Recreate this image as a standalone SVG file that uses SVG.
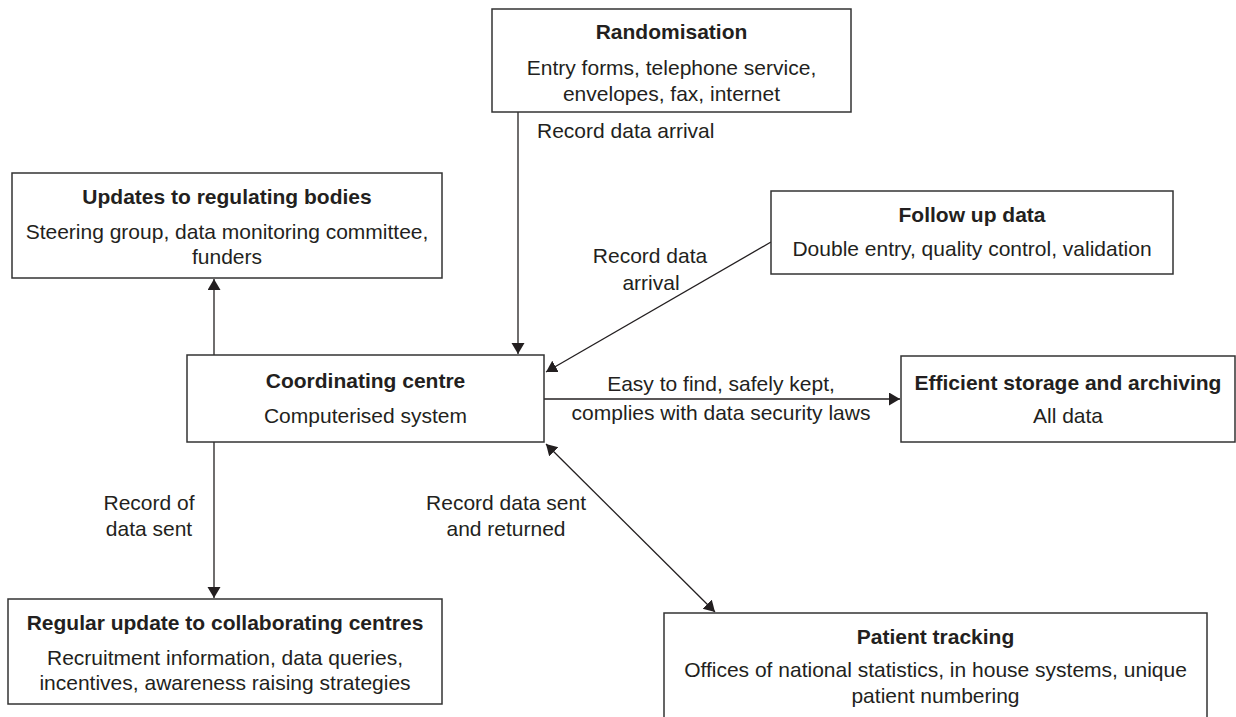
<svg xmlns="http://www.w3.org/2000/svg" width="1236" height="717" viewBox="0 0 1236 717">
<style>
.box{fill:#fff;stroke:#333;stroke-width:1.5}
.t{font-family:"Liberation Sans",Arial,sans-serif;font-size:21px;font-weight:bold;fill:#231f20;text-anchor:middle}
.b{font-family:"Liberation Sans",Arial,sans-serif;font-size:21px;fill:#231f20;text-anchor:middle}
.lbl{font-family:"Liberation Sans",Arial,sans-serif;font-size:21px;fill:#231f20}
.c{fill:none;stroke:#231f20;stroke-width:1.3}
</style>
<defs>
<marker id="ah" markerUnits="userSpaceOnUse" markerWidth="12" markerHeight="14" refX="11" refY="6.5" orient="auto-start-reverse" viewBox="0 0 12 14">
<path d="M0,0 L11,6.5 L0,13 z" fill="#231f20"/>
</marker>
</defs>
<rect width="1236" height="717" fill="#fff"/>
<g id="connectors">
<line class="c" x1="518" y1="112" x2="518" y2="354" marker-end="url(#ah)"/>
<line class="c" x1="771" y1="242" x2="546" y2="372" marker-end="url(#ah)"/>
<line class="c" x1="214" y1="355" x2="214" y2="279" marker-end="url(#ah)"/>
<line class="c" x1="544" y1="399" x2="900" y2="399" marker-end="url(#ah)"/>
<line class="c" x1="214" y1="442" x2="214" y2="598" marker-end="url(#ah)"/>
<line class="c" x1="546" y1="444" x2="715" y2="612" marker-start="url(#ah)" marker-end="url(#ah)"/>
<text class="lbl" x="537" y="138">Record data arrival</text>
<text class="lbl" x="650" y="263" text-anchor="middle">Record data</text>
<text class="lbl" x="651" y="290" text-anchor="middle">arrival</text>
<text class="lbl" x="721" y="391" text-anchor="middle">Easy to find, safely kept,</text>
<text class="lbl" x="721" y="420" text-anchor="middle">complies with data security laws</text>
<text class="lbl" x="149" y="510" text-anchor="middle">Record of</text>
<text class="lbl" x="149" y="536" text-anchor="middle">data sent</text>
<text class="lbl" x="506" y="510" text-anchor="middle">Record data sent</text>
<text class="lbl" x="506" y="536" text-anchor="middle">and returned</text>
</g>
<g id="randomisation">
<rect class="box" x="492" y="9" width="359" height="103"/>
<text class="t" x="671.5" y="39">Randomisation</text>
<text class="b" x="671.5" y="75">Entry forms, telephone service,</text>
<text class="b" x="671.5" y="101">envelopes, fax, internet</text>
</g>
<g id="updates">
<rect class="box" x="12" y="173" width="430" height="105"/>
<text class="t" x="227" y="204">Updates to regulating bodies</text>
<text class="b" x="227" y="239">Steering group, data monitoring committee,</text>
<text class="b" x="227" y="264">funders</text>
</g>
<g id="followup">
<rect class="box" x="771" y="191" width="402" height="83"/>
<text class="t" x="972" y="222">Follow up data</text>
<text class="b" x="972" y="256">Double entry, quality control, validation</text>
</g>
<g id="coordinating">
<rect class="box" x="187" y="355" width="357" height="87"/>
<text class="t" x="365.5" y="388">Coordinating centre</text>
<text class="b" x="365.5" y="423">Computerised system</text>
</g>
<g id="storage">
<rect class="box" x="901" y="356" width="334" height="86"/>
<text class="t" x="1068" y="390">Efficient storage and archiving</text>
<text class="b" x="1068" y="423">All data</text>
</g>
<g id="regular">
<rect class="box" x="8" y="599" width="434" height="105"/>
<text class="t" x="225" y="630">Regular update to collaborating centres</text>
<text class="b" x="225" y="665">Recruitment information, data queries,</text>
<text class="b" x="225" y="690">incentives, awareness raising strategies</text>
</g>
<g id="patient">
<rect class="box" x="664" y="613" width="543" height="120"/>
<text class="t" x="935.5" y="644">Patient tracking</text>
<text class="b" x="935.5" y="677">Offices of national statistics, in house systems, unique</text>
<text class="b" x="935.5" y="703">patient numbering</text>
</g>
</svg>
